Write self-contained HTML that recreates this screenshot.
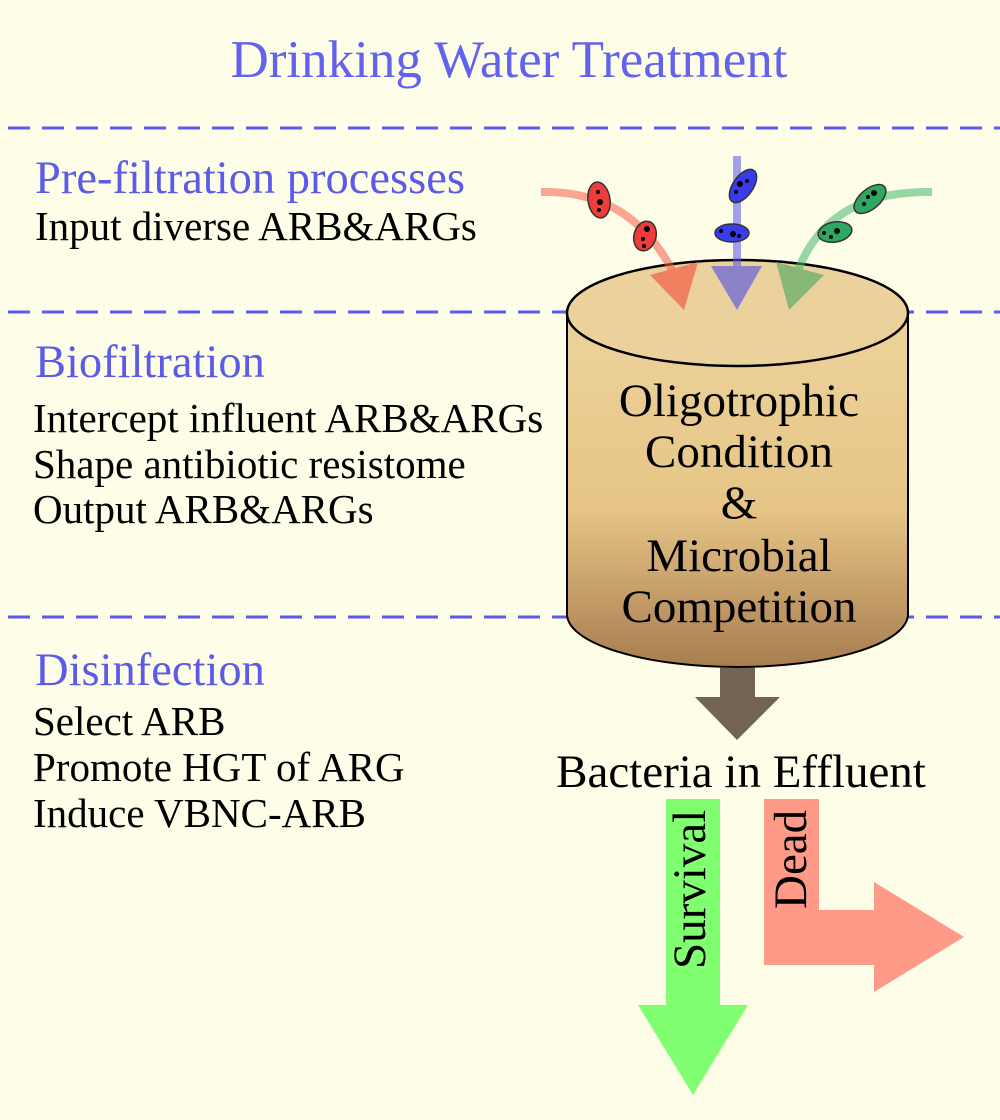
<!DOCTYPE html>
<html><head><style>
body{margin:0;width:1000px;height:1120px;background:#fefee8;overflow:hidden;}
svg{display:block}
.h{font-family:"Liberation Serif",serif;fill:#5b5be8;font-size:46.5px}
.b{font-family:"Liberation Serif",serif;fill:#000;font-size:41px}
.c{font-family:"Liberation Serif",serif;fill:#000;font-size:47px;text-anchor:middle}
</style></head><body>
<svg width="1000" height="1120" viewBox="0 0 1000 1120">
<defs>
<linearGradient id="g" x1="0" y1="0" x2="0" y2="1">
<stop offset="0" stop-color="#edd39c"/><stop offset="0.55" stop-color="#e6c587"/><stop offset="1" stop-color="#a87d50"/></linearGradient>
</defs>
<text x="509" y="77" text-anchor="middle" style="font-family:'Liberation Serif',serif;font-size:53px;fill:#6262ee">Drinking Water Treatment</text>
<g stroke="#5a5aee" stroke-width="3" stroke-dasharray="22,12">
<line x1="8" y1="128" x2="1000" y2="128"/>
<line x1="8" y1="312" x2="1000" y2="312"/>
<line x1="8" y1="617" x2="1000" y2="617"/>
</g>
<text class="h" x="35" y="193">Pre-filtration processes</text>
<text class="b" x="35" y="240">Input diverse ARB&amp;ARGs</text>
<text class="h" x="35" y="377">Biofiltration</text>
<text class="b" x="33" y="432">Intercept influent ARB&amp;ARGs</text>
<text class="b" x="33" y="478">Shape antibiotic resistome</text>
<text class="b" x="33" y="523">Output ARB&amp;ARGs</text>
<text class="h" x="35" y="685">Disinfection</text>
<text class="b" x="33" y="735">Select ARB</text>
<text class="b" x="33" y="781">Promote HGT of ARG</text>
<text class="b" x="33" y="827">Induce VBNC-ARB</text>
<!-- cylinder -->
<path d="M567,313 L567,614 A170.5,53 0 0 0 908,614 L908,313 Z" fill="url(#g)" stroke="#000" stroke-width="2"/>
<ellipse cx="737.5" cy="313" rx="170.5" ry="53" fill="#ebd19c" stroke="#000" stroke-width="2.5"/>
<!-- influx arrows -->
<g fill="none" stroke-width="8" opacity="0.55">
<path d="M541,192 Q630,190 672,270" stroke="#f65c4c"/>
<line x1="737" y1="156" x2="737" y2="280" stroke="#5555ee"/>
<path d="M932,192 Q830,190 798,270" stroke="#44b46a"/>
</g>
<polygon points="650,275 698,262 684,310" fill="#f08060"/>
<polygon points="711,266 762,266 737,310" fill="#8c80c8"/>
<polygon points="776,262 824,275 789,310" fill="#88b878"/>
<!-- bacteria -->
<g stroke="#333" stroke-width="1.5">
<ellipse cx="599" cy="200" rx="11" ry="18" fill="#ee3b3b" transform="rotate(-8 599 200)"/>
<ellipse cx="645" cy="236" rx="11" ry="15" fill="#ee3b3b" transform="rotate(15 645 236)"/>
<ellipse cx="743" cy="186" rx="10" ry="19" fill="#3b3bee" transform="rotate(35 743 186)"/>
<ellipse cx="732" cy="233" rx="17" ry="9" fill="#3b3bee"/>
<ellipse cx="870" cy="199" rx="10" ry="19" fill="#2ea860" transform="rotate(50 870 199)"/>
<ellipse cx="835" cy="232" rx="17" ry="10" fill="#2ea860" transform="rotate(-10 835 232)"/>
</g>
<g fill="#000">
<circle cx="598" cy="192" r="2"/><circle cx="600" cy="202" r="3"/><circle cx="599" cy="210" r="2"/>
<circle cx="647" cy="229" r="3"/><circle cx="643" cy="239" r="2"/><circle cx="644" cy="246" r="2"/>
<circle cx="740" cy="184" r="3"/><circle cx="747" cy="181" r="2"/><circle cx="736" cy="192" r="2"/>
<circle cx="733" cy="234" r="3"/><circle cx="721" cy="231" r="2"/><circle cx="739" cy="236" r="2"/>
<circle cx="874" cy="193" r="3"/><circle cx="868" cy="197" r="2"/><circle cx="864" cy="204" r="2"/>
<circle cx="837" cy="231" r="3"/><circle cx="824" cy="233" r="2"/><circle cx="831" cy="237" r="2"/>
</g>
<text class="c" x="739" y="416">Oligotrophic</text>
<text class="c" x="739" y="467">Condition</text>
<text class="c" x="739" y="518">&amp;</text>
<text class="c" x="739" y="571">Microbial</text>
<text class="c" x="739" y="622">Competition</text>
<!-- output arrow -->
<polygon points="720,668 755,668 755,697 780,697 737,740 695,697 720,697" fill="#736353"/>
<text x="741" y="787" text-anchor="middle" style="font-family:'Liberation Serif',serif;font-size:47px;fill:#000">Bacteria in Effluent</text>
<polygon points="666,799 720,799 720,1005 748,1005 693,1095 638,1005 666,1005" fill="#80ff70"/>
<polygon points="764,799 819,799 819,910 874,910 874,882 964,937 874,992 874,965 764,965" fill="#ff9a88"/>
<text transform="translate(705,969) rotate(-90)" style="font-family:'Liberation Serif',serif;font-size:47px;fill:#000">Survival</text>
<text transform="translate(806,909) rotate(-90)" style="font-family:'Liberation Serif',serif;font-size:47px;fill:#000">Dead</text>
</svg>
</body></html>
